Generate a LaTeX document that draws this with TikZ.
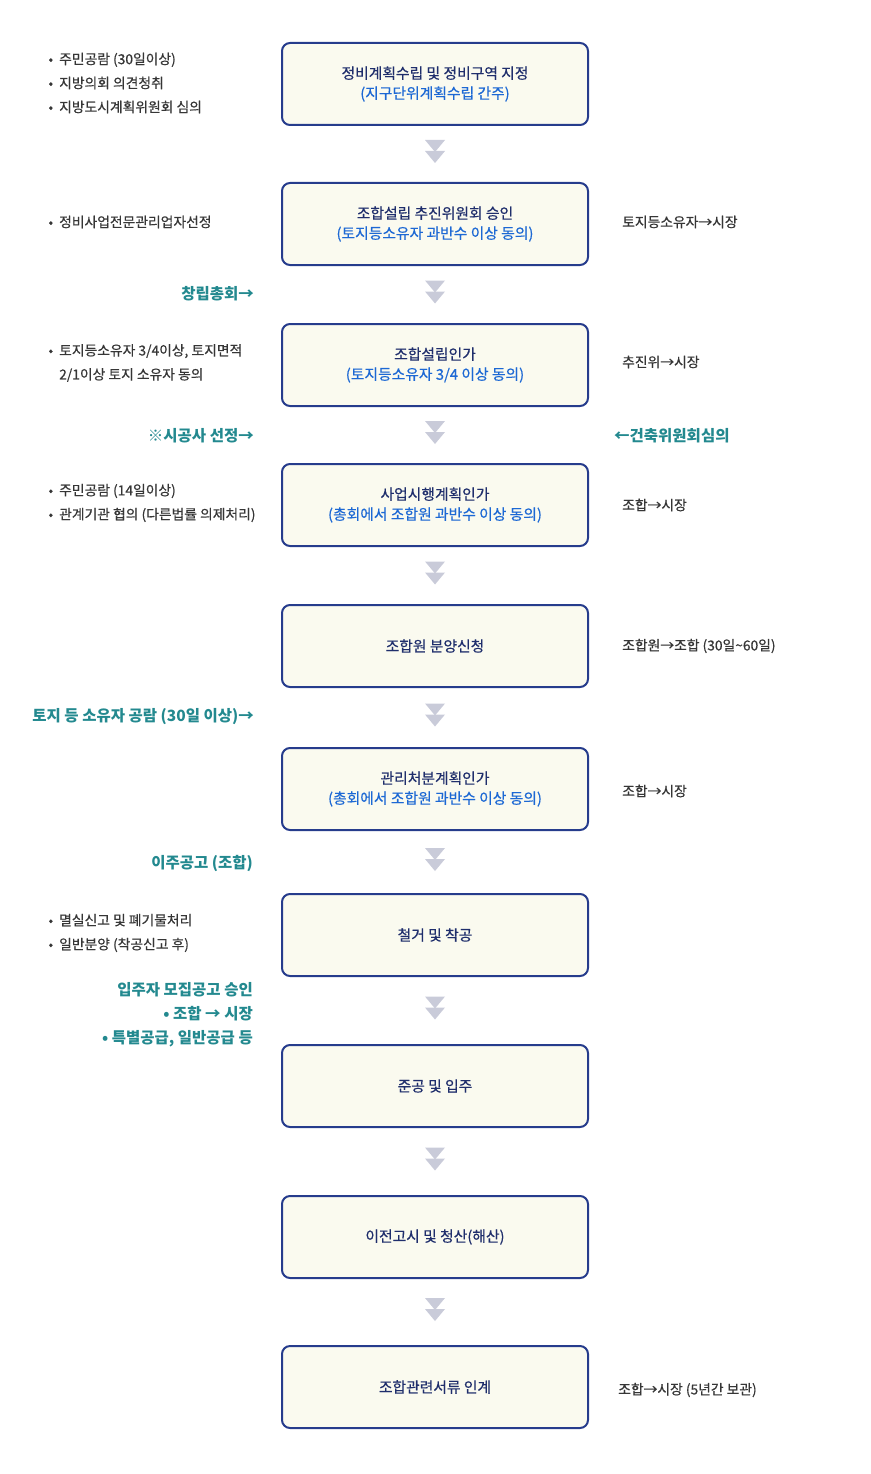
\documentclass[tikz,border=0pt]{standalone}
\usepackage{fontspec}
\setmainfont{Noto Sans CJK KR}
\newfontfamily\medfont{Noto Sans CJK KR}[FakeBold=0.5]
\usetikzlibrary{calc}
\definecolor{boxline}{HTML}{263C8C}
\definecolor{boxfill}{HTML}{FAFAEF}
\definecolor{titlenavy}{HTML}{1F2E6C}
\definecolor{subblue}{HTML}{1C68D4}
\definecolor{tealtext}{HTML}{23898F}
\definecolor{graytext}{HTML}{363636}
\definecolor{chevgray}{HTML}{C9CBD9}
\newcommand{\remark}[1]{{\color{subblue}#1}}
\newcommand{\bul}{\llap{•\hspace{6pt}}}

\begin{document}
\begin{tikzpicture}[x=1pt,y=-1pt,
stage/.style={%
draw=boxline,
line width=2pt,
fill=boxfill,
rounded corners=8pt,
minimum width=306pt,
minimum height=82pt,
align=center,
text=titlenavy,
font=\fontsize{14.8}{20}\medfont
},
memo/.style={%
anchor=west,
align=left,
inner sep=0pt,
text=graytext,
font=\fontsize{13.8}{24}\medfont
},
hint/.style={%
anchor=east,
align=right,
inner sep=0pt,
text=tealtext,
font=\fontsize{15.5}{24}\selectfont\bfseries
},
chev/.style={%
fill=chevgray
},
]
\useasboundingbox (0,0) rectangle (870,1474);
%% Stages
\node[stage] (s1) at (435,84) {정비계획수립 및 정비구역 지정\\\remark{(지구단위계획수립 간주)}};
\node[stage] (s2) at (435,224) {조합설립 추진위원회 승인\\\remark{(토지등소유자 과반수 이상 동의)}};
\node[stage] (s3) at (435,365) {조합설립인가\\\remark{(토지등소유자 3/4 이상 동의)}};
\node[stage] (s4) at (435,505) {사업시행계획인가\\\remark{(총회에서 조합원 과반수 이상 동의)}};
\node[stage] (s5) at (435,646) {조합원 분양신청};
\node[stage] (s6) at (435,789) {관리처분계획인가\\\remark{(총회에서 조합원 과반수 이상 동의)}};
\node[stage] (s7) at (435,935) {철거 및 착공};
\node[stage] (s8) at (435,1086) {준공 및 입주};
\node[stage] (s9) at (435,1237) {이전고시 및 청산(해산)};
\node[stage] (s10) at (435,1387) {조합관련서류 인계};
%% Chevrons
\foreach \i [evaluate=\i as \j using int(\i+1)] in {1,...,9}{%
\path (s\i.south) -- (s\j.north) coordinate[midway] (c\i);
\fill[chev] ($(c\i)+(-10,-14)$) -- ++(20,0) -- ++(-10,12) -- cycle;
\fill[chev] ($(c\i)+(-10,-3)$) -- ++(20,0) -- ++(-10,12) -- cycle;
}
%% Left notes
\node[memo] (l1) at (59,83) {\bul 주민공람 (30일이상)\\\bul 지방의회 의견청취\\\bul 지방도시계획위원회 심의};
\node[memo] (l2) at (59,222) {\bul 정비사업전문관리업자선정};
\node[memo] (l3) at (59,363) {\bul 토지등소유자 3/4이상, 토지면적\\2/1이상 토지 소유자 동의};
\node[memo] (l4) at (59,503) {\bul 주민공람 (14일이상)\\\bul 관계기관 협의 (다른법률 의제처리)};
\node[memo] (l7) at (59,933) {\bul 멸실신고 및 폐기물처리\\\bul 일반분양 (착공신고 후)};
%% Teal hints
\node[hint] (h1) at (254,294) {창립총회→};
\node[hint] (h2) at (254,436) {※시공사 선정→};
\node[hint,anchor=west,align=left] (h3) at (614,436) {←건축위원회심의};
\node[hint] (h4) at (254,717) {토지 등 소유자 공람 (30일 이상)→};
\node[hint] (h5) at (253,863) {이주공고 (조합)};
\node[hint] (h6) at (253,1015) {입주자 모집공고 승인\\• 조합 → 시장\\• 특별공급, 일반공급 등};
%% Right notes
\node[memo] (r2) at (622,222) {토지등소유자→시장};
\node[memo] (r3) at (622,362) {추진위→시장};
\node[memo] (r4) at (622,505) {조합→시장};
\node[memo] (r5) at (622,646) {조합원→조합 (30일{\char"7E}60일)};
\node[memo] (r6) at (622,791) {조합→시장};
\node[memo] (r10) at (618,1390) {조합→시장 (5년간 보관)};
\end{tikzpicture}
\end{document}
